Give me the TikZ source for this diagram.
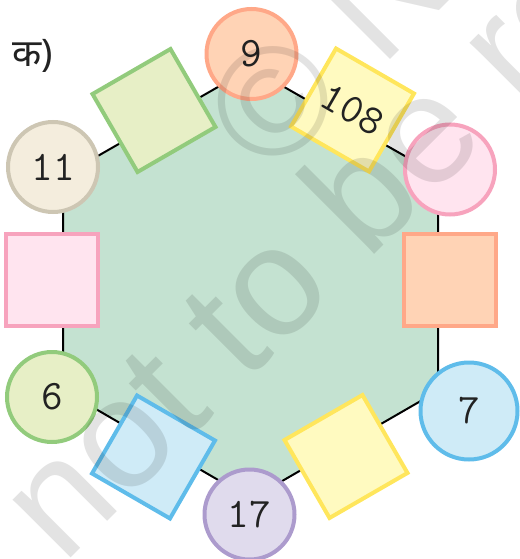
\documentclass[tikz,border=0pt]{standalone}
\usepackage{fontspec}
\newfontfamily\devfnt[Script=Devanagari]{Noto Sans}
\newfontfamily\wmfnt{Liberation Sans}
\newcommand\mynumfont{\ttfamily\fontsize{42}{50}\selectfont}
\definecolor{hexfill}{HTML}{C4E2D1}
\definecolor{peachfill}{HTML}{FFD3B5}
\definecolor{peachline}{HTML}{FFA888}
\definecolor{greenfill}{HTML}{E7EFC6}
\definecolor{greenline}{HTML}{92CB7C}
\definecolor{yelfill}{HTML}{FFFAC0}
\definecolor{yelline}{HTML}{FFE65C}
\definecolor{pinkfill}{HTML}{FFE4EF}
\definecolor{pinkline}{HTML}{F7A3BD}
\definecolor{bluefill}{HTML}{CFEBF7}
\definecolor{blueline}{HTML}{5FBCEA}
\definecolor{purpfill}{HTML}{E0DBED}
\definecolor{purpline}{HTML}{AC9BCD}
\definecolor{beigefill}{HTML}{F4EDDD}
\definecolor{beigeline}{HTML}{CDC6B3}
\definecolor{numtext}{HTML}{222222}
\tikzset{
  hexedge/.style={draw=black, line width=2pt, fill=hexfill, line join=miter},
  numcirc/.style={circle, minimum size=90pt, line width=4pt, inner sep=0pt, text=numtext, font=\mynumfont},
  numsq/.style={rectangle, minimum size=92pt, line width=4pt, inner sep=0pt, text=numtext, font=\mynumfont},
  tiltsq/.style={numsq, minimum size=90pt},
  wmark/.style={inner sep=0pt, text=black, text opacity=0.11, font=\wmfnt\fontsize{155}{155}\selectfont, rotate=45, anchor=base west},
}
\begin{document}
\begin{tikzpicture}[x=1pt,y=1pt]
\useasboundingbox (0,0) rectangle (519,-559);
% hexagon
\coordinate (vT) at (251,-68);
\coordinate (vUR) at (438,-175);
\coordinate (vLR) at (438,-391);
\coordinate (vB) at (251,-499);
\coordinate (vLL) at (63,-390);
\coordinate (vUL) at (63,-176);
\draw[hexedge] (vT) -- (vUR) -- (vLR) -- (vB) -- (vLL) -- (vUL) -- cycle;
% circles
\node[numcirc, draw=peachline, fill=peachfill] (c9) at (251.5,-54) {9};
\node[numcirc, draw=beigeline, fill=beigefill] (c11) at (53,-167) {11};
\node[numcirc, draw=pinkline, fill=pinkfill] (cpink) at (450,-169.5) {};
\node[numcirc, draw=blueline, fill=bluefill, minimum size=97pt] (c7) at (469,-411) {7};
\node[numcirc, draw=purpline, fill=purpfill] (c17) at (249.5,-514.5) {17};
\node[numcirc, draw=greenline, fill=greenfill] (c6) at (52,-397) {6};
% squares
\node[tiltsq, draw=greenline, fill=greenfill, rotate=30] (sgreen) at (154,-110.5) {};
\node[tiltsq, draw=yelline, fill=yelfill, rotate=-30] (s108) at (352.5,-110) {108};
\node[numsq, draw=pinkline, fill=pinkfill] (spink) at (52,-280) {};
\node[numsq, draw=peachline, fill=peachfill] (sorange) at (450,-280) {};
\node[tiltsq, draw=blueline, fill=bluefill, rotate=-30] (sblue) at (153.5,-457) {};
\node[tiltsq, draw=yelline, fill=yelfill, rotate=30] (syel) at (346,-456.5) {};
% label
\node[text=numtext, font=\devfnt\fontsize{38}{44}\selectfont, inner sep=0pt] (lbl) at (33,-56) {क)};
% watermark
\node[wmark] (wm1) at (270,-180) {© NCERT};
\node[wmark] (wm2) at (63,-566) {not to be republished};
\end{tikzpicture}
\end{document}
